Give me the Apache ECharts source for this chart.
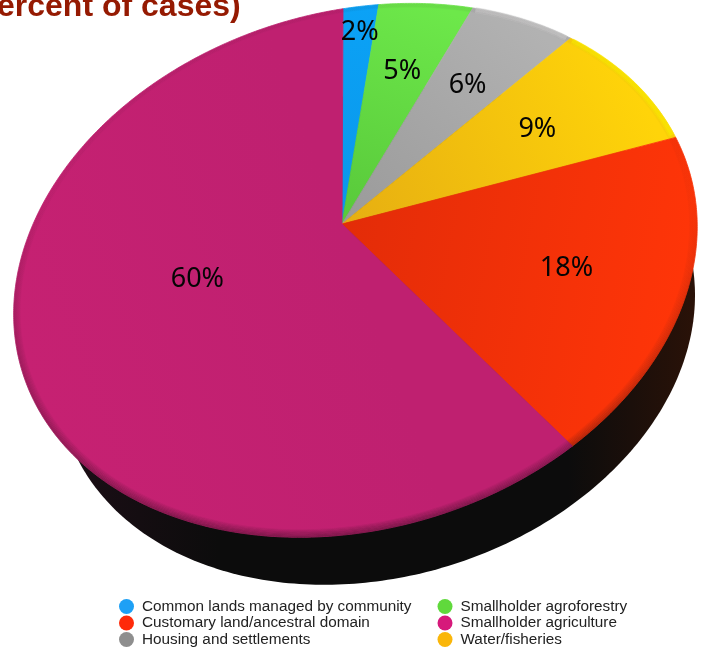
<!DOCTYPE html>
<html>
<head>
<meta charset="utf-8">
<style>
  html, body { margin: 0; padding: 0; background: #fff; }
  #main { width: 702px; height: 650px; }
</style>
<script src="https://cdn.jsdelivr.net/npm/echarts@6/dist/echarts.min.js"></script>
</head>
<body>
<div id="main"></div>
<script>
const categories = [
  "Common lands managed by community",
  "Smallholder agroforestry",
  "Housing and settlements",
  "Water/fisheries",
  "Customary land/ancestral domain",
  "Smallholder agriculture"
];
const values = [2, 5, 6, 9, 18, 60];
const legendLeft = [categories[0], categories[4], categories[2]];
const legendRight = [categories[1], categories[5], categories[3]];

const legendColors = ["#1ea0f5", "#60d93c", "#8e8e8e", "#fab60a", "#ff2a0a", "#d6197b"];
const fillStart = ["#0a97ea", "#58c83a", "#9a9a9a", "#e6ae12", "#e32c08", "#bf2070"];
const fillEnd = ["#0ba2f6", "#6de84a", "#b2b2b2", "#ffd409", "#ff3508", "#c62172"];
const rimColors = [null, null, "#cfcfcf", "#fff200", null, null];
const labelRadius = [0.87, 0.67, 0.66, 0.66, 0.67, 0.45];

// tilted top face of the disc, the slices meet off-centre at the apex
const face = { cx: 355.5, cy: 270.5, hx: 342.5, hy: 267.5, rho: -0.1637 };
const base = { cx: 376.5, cy: 336, hx: 318.5, hy: 248.8, rho: -0.1637 };
const apex = [342, 224];

function ellipsePoint(e, u, v) {
  return [
    e.cx + e.hx * u,
    e.cy + e.hy * (e.rho * u + Math.sqrt(1 - e.rho * e.rho) * v)
  ];
}

const p0 = (apex[0] - face.cx) / face.hx;
const p1 = ((apex[1] - face.cy) / face.hy - face.rho * p0) / Math.sqrt(1 - face.rho * face.rho);
const gamma = 1 / Math.sqrt(1 - p0 * p0 - p1 * p1);

function smoothstep(a, b, s) {
  const t = Math.min(1, Math.max(0, (s - a) / (b - a)));
  return t * t * (3 - 2 * t);
}

// share of the circle (0..1, clockwise from the top) -> pixel on the tilted face
function toFace(share, r) {
  // about a degree of extra turn on the right side, the source perspective is not quite projective
  const a = share * 2 * Math.PI + 0.02 * smoothstep(0.02, 0.07, share) * (1 - smoothstep(0.4, 1, share));
  const w0 = r * Math.sin(a);
  const w1 = -r * Math.cos(a);
  const pw = p0 * w0 + p1 * w1;
  const k = 1 + (gamma / (1 + gamma)) * pw;
  return ellipsePoint(face, (p0 * k + w0 / gamma) / (1 + pw), (p1 * k + w1 / gamma) / (1 + pw));
}

function arcPoints(from, to, r) {
  const pts = [];
  const n = Math.max(4, Math.ceil((to - from) * 720));
  for (let i = 0; i <= n; i++) {
    pts.push(toFace(from + ((to - from) * i) / n, r));
  }
  return pts;
}

function gradient(x, y, x2, y2, c0, c1) {
  return {
    type: "linear", x, y, x2, y2, global: true,
    colorStops: [{ offset: 0, color: c0 }, { offset: 1, color: c1 }]
  };
}

const total = values.reduce((s, v) => s + v, 0);
let running = 0;
const sliceSeries = categories.map((name, i) => {
  const from = running / total;
  running += values[i];
  const to = running / total;
  return {
    name,
    type: "custom",
    coordinateSystem: "none",
    silent: true,
    itemStyle: { color: legendColors[i] },
    data: [[values[i]]],
    renderItem: function (params, api) {
      const edge = toFace((from + to) / 2, 1);
      const fill = gradient(apex[0], apex[1], edge[0], edge[1], fillStart[i], fillEnd[i]);
      const children = [{
        type: "polygon",
        shape: { points: [apex].concat(arcPoints(from, to, 0.998)) },
        style: { fill, stroke: fill, lineWidth: 0.8 }
      }];
      if (rimColors[i]) {
        [[0.99, 6, 0.35], [0.992, 4, 0.45]].forEach((s) => {
          children.push({
            type: "polyline",
            shape: { points: arcPoints(from + 0.002, to - 0.002, s[0]) },
            style: { fill: null, stroke: rimColors[i], lineWidth: s[1], opacity: s[2] }
          });
        });
      }
      return { type: "group", children };
    }
  };
});

const wallSeries = {
  name: "wall",
  type: "custom",
  coordinateSystem: "none",
  silent: true,
  data: [[0]],
  renderItem: function () {
    const pts = [];
    for (let i = 0; i < 360; i++) {
      const a = (i * Math.PI) / 180;
      pts.push(ellipsePoint(base, Math.cos(a), Math.sin(a)));
    }
    return {
      type: "polygon",
      shape: { points: pts },
      style: {
        fill: {
          type: "linear", x: 60, y: 0, x2: 695, y2: 0, global: true,
          colorStops: [
            { offset: 0, color: "#1c0e16" },
            { offset: 0.25, color: "#0c0c0c" },
            { offset: 0.8, color: "#0c0c0c" },
            { offset: 1, color: "#2a1208" }
          ]
        }
      }
    };
  }
};

const rimSeries = {
  name: "rim",
  type: "custom",
  coordinateSystem: "none",
  silent: true,
  data: [[0]],
  renderItem: function () {
    const rings = [];
    for (let j = 0; j < 7; j++) {
      rings.push({
        type: "polyline",
        shape: { points: arcPoints(0, 1, 0.997 - j * 0.003) },
        style: {
          fill: null,
          lineWidth: 1.6,
          stroke: gradient(0, 200, 0, 520, "rgba(30,10,20,0.02)", "rgba(30,10,20," + (0.3 - j * 0.04) + ")")
        }
      });
    }
    return { type: "group", children: rings };
  }
};

const labelSeries = {
  name: "labels",
  type: "custom",
  coordinateSystem: "none",
  silent: true,
  data: [[0]],
  renderItem: function () {
    let sum = 0;
    const children = values.map((v, i) => {
      const mid = (sum + v / 2) / total;
      sum += v;
      const pt = toFace(mid, labelRadius[i]);
      return {
        type: "text",
        x: pt[0] + 1,
        y: pt[1] + 2,
        style: {
          text: v + "%",
          fill: "#050505",
          font: '27px "Noto Sans"',
          align: "center",
          verticalAlign: "middle"
        }
      };
    });
    return { type: "group", children };
  }
};

const legendText = { fontFamily: "Liberation Sans", fontSize: 15.3, color: "#222", padding: [0, 0, 0, 3], lineHeight: 15 };

const options = {
  animation: false,
  title: {
    text: "ercent of cases)",
    left: -3,
    top: -9,
    padding: 0,
    textStyle: { fontFamily: "Liberation Sans", fontSize: 32, fontWeight: "bold", color: "#951a02" }
  },
  legend: [
    {
      data: legendLeft, orient: "vertical", left: 119, top: 599, padding: 0, itemGap: 1.5,
      itemWidth: 15, itemHeight: 15, icon: "circle", textStyle: legendText, selectedMode: false
    },
    {
      data: legendRight, orient: "vertical", left: 437.5, top: 599, padding: 0, itemGap: 1.5,
      itemWidth: 15, itemHeight: 15, icon: "circle", textStyle: legendText, selectedMode: false
    }
  ],
  series: [wallSeries].concat(sliceSeries, [rimSeries, labelSeries])
};

var myChart = echarts.init(document.querySelector("#main"));
myChart.setOption(options);
</script>
</body>
</html>
